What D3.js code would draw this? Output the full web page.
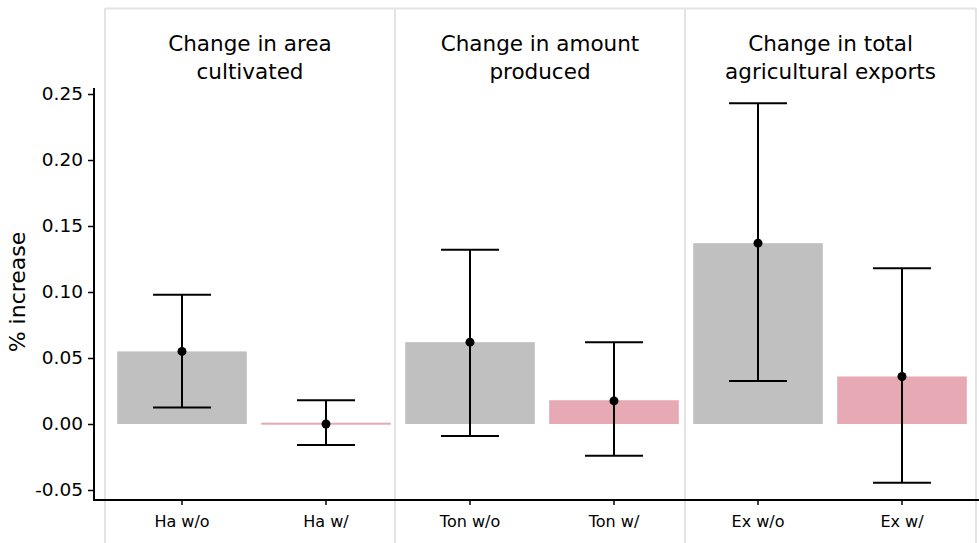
<!DOCTYPE html>
<html><head><meta charset="utf-8">
<script src="https://cdn.jsdelivr.net/npm/d3@7"></script>
<style>body{margin:0;background:#fff}svg{display:block}text{font-family:"DejaVu Sans",sans-serif;fill:#000}</style>
</head><body><svg id="c" width="979" height="543"></svg>
<script>
const categories = ["Ha w/o","Ha w/","Ton w/o","Ton w/","Ex w/o","Ex w/"];
const barValues = [0.055, 0.001, 0.062, 0.018, 0.137, 0.036];
const pointValues = [0.055, 0.000, 0.062, 0.0175, 0.137, 0.036];
const errLow = [0.0125, -0.016, -0.009, -0.024, 0.0325, -0.0445];
const errHigh = [0.098, 0.018, 0.132, 0.062, 0.243, 0.118];
const barGroup = ["without","with","without","with","without","with"];
const panelTitles = [["Change in area","cultivated"],["Change in amount","produced"],["Change in total","agricultural exports"]];
const yTicks = [-0.05,0,0.05,0.10,0.15,0.20,0.25];
const colors = {without:"#c0c0c0", with:"#e7a9b4"};

const svg = d3.select("#c");
const x = d3.scaleBand().domain(categories).range([110,974]).paddingInner(0.1).paddingOuter(0.05);
const y = d3.scaleLinear().domain([-0.05,0.25]).range([490,94]);
const FONT = "DejaVu Sans, sans-serif";

// panel frames
const panelEdges = [105,395,685,976];
svg.append("line").attr("x1",105).attr("x2",976).attr("y1",8.5).attr("y2",8.5).attr("stroke","#e3e3e3").attr("stroke-width",2);
panelEdges.forEach(px=>svg.append("line").attr("x1",px).attr("x2",px).attr("y1",8).attr("y2",543).attr("stroke","#e3e3e3").attr("stroke-width",2));

// titles
panelTitles.forEach((t,i)=>{
  const cx = (panelEdges[i]+panelEdges[i+1])/2;
  t.forEach((line,j)=>svg.append("text").attr("x",cx).attr("y",51+j*28).attr("text-anchor","middle").attr("font-size",21.5).text(line));
});

// bars
svg.selectAll("rect.bar").data(categories).enter().append("rect")
  .attr("x",d=>x(d)).attr("width",x.bandwidth())
  .attr("y",(d,i)=>Math.min(y(barValues[i]),y(0)-1))
  .attr("height",(d,i)=>Math.max(2,Math.abs(y(0)-y(barValues[i]))))
  .attr("fill",(d,i)=>colors[barGroup[i]]);

// error bars
const cap = 58;
categories.forEach((d,i)=>{
  const cx = x(d)+x.bandwidth()/2;
  const g = svg.append("g").attr("stroke","#000").attr("stroke-width",2);
  g.append("line").attr("x1",cx).attr("x2",cx).attr("y1",y(errLow[i])).attr("y2",y(errHigh[i]));
  g.append("line").attr("x1",cx-cap/2).attr("x2",cx+cap/2).attr("y1",y(errLow[i])).attr("y2",y(errLow[i]));
  g.append("line").attr("x1",cx-cap/2).attr("x2",cx+cap/2).attr("y1",y(errHigh[i])).attr("y2",y(errHigh[i]));
  svg.append("circle").attr("cx",cx).attr("cy",y(pointValues[i])).attr("r",4.5).attr("fill","#000");
});

// y axis
const ya = svg.append("g").attr("transform","translate(94,0)")
  .call(d3.axisLeft(y).tickValues(yTicks).tickFormat(v=>d3.format(".2f")(v).replace("−","-")).tickSize(6).tickSizeOuter(0));
ya.select(".domain").attr("stroke","#000").attr("stroke-width",2).attr("d","M0,88V501");
ya.selectAll(".tick line").attr("stroke","#000").attr("stroke-width",1.5);
ya.selectAll(".tick text").attr("font-size",18.5).attr("font-family",FONT).attr("x",-11).attr("fill","#000");

// x axis
const xa = svg.append("g").attr("transform","translate(0,500)")
  .call(d3.axisBottom(x).tickSize(5).tickSizeOuter(0));
xa.select(".domain").attr("stroke","#000").attr("stroke-width",2).attr("d","M93,0H979");
xa.selectAll(".tick line").attr("stroke","#000").attr("stroke-width",1.5);
xa.selectAll(".tick text").attr("font-size",16).attr("font-family",FONT).attr("y",16).attr("fill","#000");

// y label
svg.append("text").attr("transform","translate(25,292) rotate(-90)").attr("text-anchor","middle").attr("font-size",22).text("% increase");
</script></body></html>
